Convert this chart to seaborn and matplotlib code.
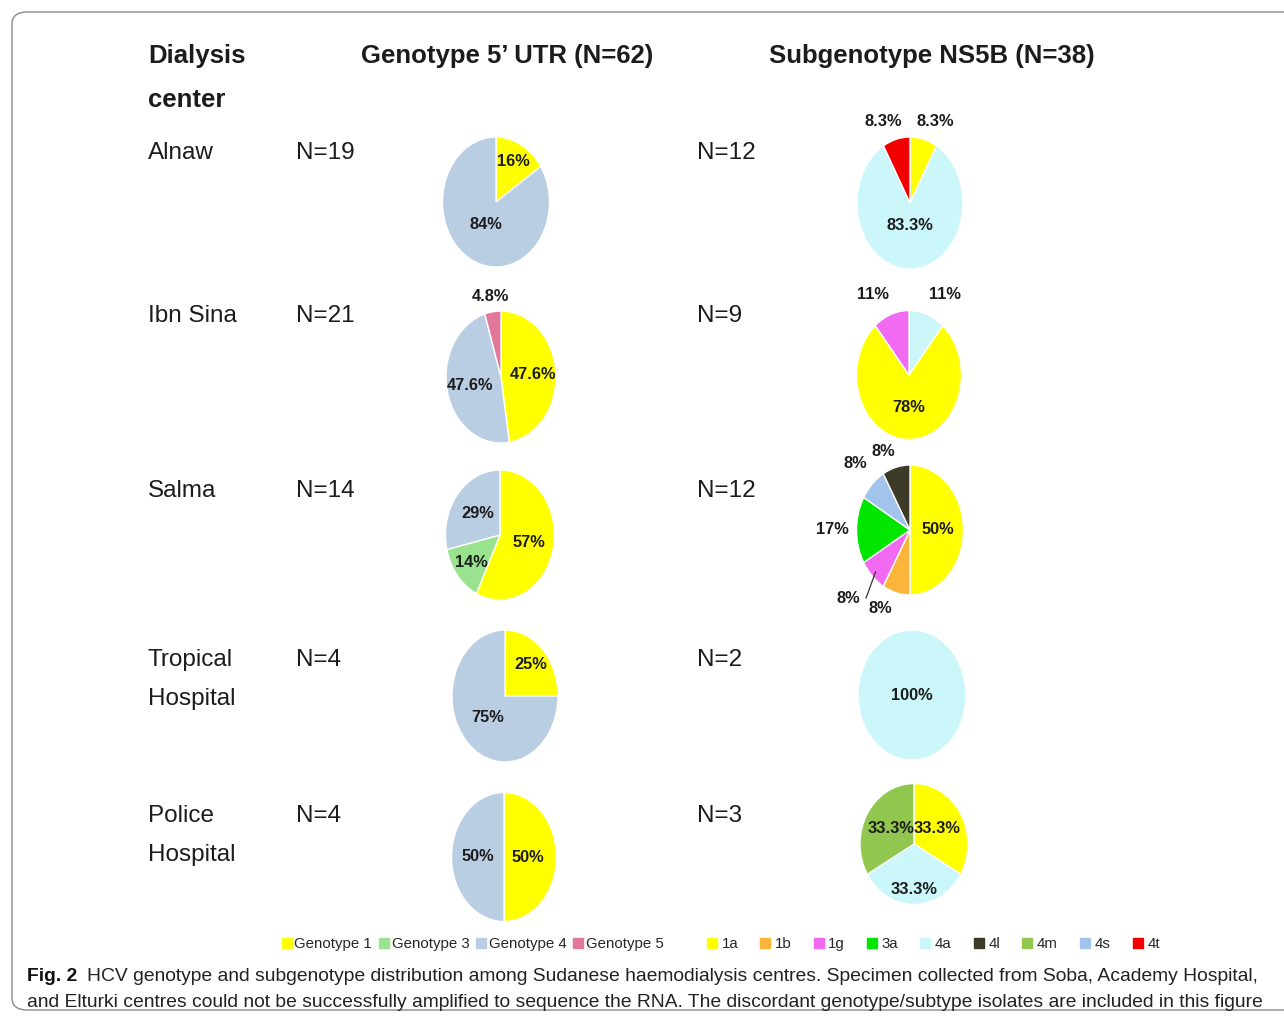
import numpy as np
import seaborn as sns
import matplotlib.pyplot as plt
from matplotlib.lines import Line2D
from matplotlib.patches import FancyBboxPatch

sns.set_theme(style="white")
plt.rcParams['font.family'] = ['Liberation Sans', 'DejaVu Sans']

# data
centers = ["Alnaw", "Ibn Sina", "Salma", "Tropical\nHospital", "Police\nHospital"]
genotype_n = [19, 21, 14, 4, 4]
subtype_n = [12, 9, 12, 2, 3]

genotype_groups = [["Genotype 1", "Genotype 4"],
                   ["Genotype 1", "Genotype 4", "Genotype 5"],
                   ["Genotype 1", "Genotype 3", "Genotype 4"],
                   ["Genotype 1", "Genotype 4"],
                   ["Genotype 1", "Genotype 4"]]
genotype_counts = [[3, 16], [10, 10, 1], [8, 2, 4], [1, 3], [2, 2]]
genotype_pct = [["16%", "84%"], ["47.6%", "47.6%", "4.8%"], ["57%", "14%", "29%"],
                ["25%", "75%"], ["50%", "50%"]]

subtype_groups = [["1a", "4a", "4t"],
                  ["4a", "1a", "1g"],
                  ["1a", "1b", "1g", "3a", "4s", "4l"],
                  ["4a"],
                  ["1a", "4a", "4m"]]
subtype_counts = [[1, 10, 1], [1, 7, 1], [6, 1, 1, 2, 1, 1], [2], [1, 1, 1]]
subtype_pct = [["8.3%", "83.3%", "8.3%"], ["11%", "78%", "11%"],
               ["50%", "8%", "8%", "17%", "8%", "8%"], ["100%"],
               ["33.3%", "33.3%", "33.3%"]]

genotype_legend = ["Genotype 1", "Genotype 3", "Genotype 4", "Genotype 5"]
subtype_legend = ["1a", "1b", "1g", "3a", "4a", "4l", "4m", "4s", "4t"]

palette = {"Genotype 1": "#FFFF00", "Genotype 3": "#99E28E", "Genotype 4": "#B9CDE3",
           "Genotype 5": "#E2779A", "1a": "#FFFF00", "1b": "#FBB53A", "1g": "#F26AF2",
           "3a": "#00E600", "4a": "#CBF6FA", "4l": "#3D3A27", "4m": "#92C74F",
           "4s": "#A2C4EC", "4t": "#F20000"}

# layout (pixels): pie centre x, centre y, width, height
W, H = 1284, 1019
geno_box = [(496, 202, 107, 130), (501, 377, 110, 132), (500, 535, 109, 130),
            (505, 696, 106, 132), (504, 857, 105, 129)]
sub_box = [(910, 203, 106, 132), (909, 375, 105, 129), (910, 530, 107, 130),
           (912, 695, 108, 130), (914, 844, 108, 121)]
geno_dist = [[0.7, 0.4], [0.58, 0.58, 1.24], [0.55, 0.68, 0.52], [0.68, 0.47], [0.46, 0.5]]
sub_dist = [[1.28, 0.34, 1.28], [1.33, 0.5, 1.33], [0.52, 1.25, 1.48, 1.45, 1.44, 1.25],
            [0], [0.5, 0.76, 0.5]]
# horizontal nudges (pixels) for outside labels of the subgenotype pies
sub_nudge = {(0, 0): 8, (0, 2): -9, (1, 0): 12, (1, 2): -12,
             (2, 1): -12, (2, 2): -6, (2, 5): -9}
row_y = [150, 313, 488, 657, 813]
line_gap = 39
ink = "#1c1c1c"


def fx(x):
    return x / W


def fy(y):
    return 1 - y / H


def draw_pie(box, groups, counts, labels, dists, nudge=None, leader=None):
    cx, cy, w, h = box
    nudge = nudge or {}
    ax = fig.add_axes([fx(cx - w / 2), fy(cy + h / 2), w / W, h / H])
    wedges, _ = ax.pie(counts, colors=[palette[g] for g in groups], startangle=90,
                       counterclock=False, wedgeprops=dict(edgecolor="white", linewidth=1))
    ax.set_xlim(-1, 1)
    ax.set_ylim(-1, 1)
    ax.set_aspect("auto")
    ax.axis("off")
    for i, (wd, lab, d) in enumerate(zip(wedges, labels, dists)):
        a = np.deg2rad((wd.theta1 + wd.theta2) / 2)
        px = d * np.cos(a) + nudge.get(i, 0) / (w / 2)
        py = d * np.sin(a)
        if leader is not None and i == leader:
            ax.annotate(lab, xy=(0.98 * np.cos(a) + 0.05, 0.98 * np.sin(a) + 0.05),
                        xytext=(px, py), ha="center", va="center", fontsize=11.8,
                        fontweight="bold", color=ink,
                        arrowprops=dict(arrowstyle="-", color="#333333", lw=0.9,
                                        shrinkA=2, shrinkB=0,
                                        connectionstyle="angle,angleA=0,angleB=70,rad=0"))
        else:
            ax.text(px, py, lab, ha="center", va="center", fontsize=11.8,
                    fontweight="bold", color=ink)


fig = plt.figure(figsize=(W / 100, H / 100), dpi=100)
fig.patches.append(FancyBboxPatch((fx(12), fy(1010)), fx(1300) - fx(12), fy(12) - fy(1010),
                                  boxstyle="round,pad=0,rounding_size=0.012",
                                  transform=fig.transFigure, fill=False,
                                  edgecolor="#8a8a8a", linewidth=1))

# headers
fig.text(fx(148), fy(63), "Dialysis", fontsize=18.5, fontweight="bold", color=ink, va="baseline")
fig.text(fx(148), fy(107), "center", fontsize=18.5, fontweight="bold", color=ink, va="baseline")
fig.text(fx(507), fy(63), "Genotype 5\u2019 UTR (N=62)", fontsize=18.5, fontweight="bold",
         color=ink, va="baseline", ha="center")
fig.text(fx(932), fy(63), "Subgenotype NS5B (N=38)", fontsize=18.5, fontweight="bold",
         color=ink, va="baseline", ha="center")

for i, name in enumerate(centers):
    for k, part in enumerate(name.split("\n")):
        fig.text(fx(148), fy(row_y[i] + 9 + k * line_gap), part, fontsize=17.5, color=ink,
                 va="baseline")
    fig.text(fx(296), fy(row_y[i] + 9), "N=%d" % genotype_n[i], fontsize=17.5, color=ink,
             va="baseline")
    fig.text(fx(697), fy(row_y[i] + 9), "N=%d" % subtype_n[i], fontsize=17.5, color=ink,
             va="baseline")
    draw_pie(geno_box[i], genotype_groups[i], genotype_counts[i], genotype_pct[i], geno_dist[i])
    draw_pie(sub_box[i], subtype_groups[i], subtype_counts[i], subtype_pct[i], sub_dist[i],
             nudge={k[1]: v for k, v in sub_nudge.items() if k[0] == i},
             leader=2 if i == 2 else None)


# legends
def handles(names):
    return [Line2D([], [], marker="s", linestyle="none", markersize=7,
                   markerfacecolor=palette[n], markeredgecolor=palette[n], label=n)
            for n in names]


fig.legend(handles=handles(genotype_legend), loc="center left", bbox_to_anchor=(fx(283), fy(944)),
           ncol=4, frameon=False, fontsize=10.8, handlelength=0.5, handletextpad=0.25,
           columnspacing=0.55, borderaxespad=0, borderpad=0)
fig.legend(handles=handles(subtype_legend), loc="center left", bbox_to_anchor=(fx(708), fy(944)),
           ncol=9, frameon=False, fontsize=10.8, handlelength=0.5, handletextpad=0.4,
           columnspacing=1.55, borderaxespad=0, borderpad=0)

# caption
fig.text(fx(27), fy(981), "Fig. 2", fontsize=13.9, fontweight="bold",
         color="#111111", va="baseline")
fig.text(fx(87), fy(981), "HCV genotype and subgenotype distribution among Sudanese haemodialysis "
         "centres. Specimen collected from Soba, Academy Hospital,", fontsize=13.9,
         color="#222222", va="baseline")
fig.text(fx(27), fy(1007), "and Elturki centres could not be successfully amplified to sequence "
         "the RNA. The discordant genotype/subtype isolates are included in this figure",
         fontsize=13.9, color="#222222", va="baseline")

fig.savefig("out.png", dpi=100)
